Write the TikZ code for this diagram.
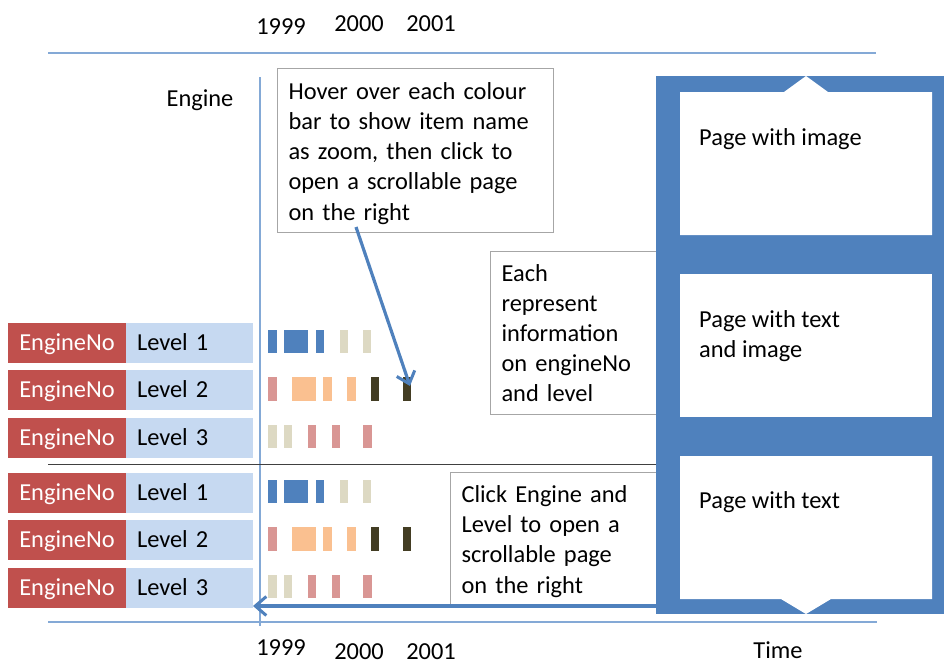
\documentclass[tikz,border=0pt]{standalone}
\usepackage{fontspec}
\setmainfont{Carlito}
\usetikzlibrary{arrows.meta}

\definecolor{engred}{HTML}{C0504D}
\definecolor{lvlblue}{HTML}{C6D9F1}
\definecolor{panelblue}{HTML}{4F81BD}
\definecolor{axisblue}{HTML}{84A9D6}
\definecolor{barblue}{HTML}{4F81BD}
\definecolor{barbeige}{HTML}{DDD9C3}
\definecolor{barpink}{HTML}{D99694}
\definecolor{barorange}{HTML}{FAC090}
\definecolor{bardark}{HTML}{433D23}
\definecolor{boxgray}{HTML}{A6A6A6}
\definecolor{sepline}{HTML}{404040}

\newcommand\barrow[2]{%
  \foreach \xa/\xb/\col in {#2}{
    \fill[\col] (\xa,#1-11.7) rectangle (\xb,#1+11.7);
  }}

\begin{document}
\begin{tikzpicture}[x=1pt,y=-1pt,
  font=\fontsize{24.4}{30.2}\selectfont,
  axisline/.style={draw=axisblue,line width=1.3pt},
  engbox/.style={fill=engred,text=white,minimum width=118pt,minimum height=40pt,
    inner sep=0pt,text height=18pt,text depth=3pt},
  lvlbox/.style={fill=lvlblue,text=black,minimum height=40pt,text width=105pt,
    inner xsep=11pt,inner ysep=0pt,align=left,text height=18pt,text depth=3pt},
  notebox/.style={draw=boxgray,line width=1.1pt,fill=white,align=left,
    inner xsep=11pt,anchor=north west},
  pagetext/.style={anchor=north west,inner sep=0pt,align=left},
  yearlabel/.style={anchor=base,inner sep=0pt},
  callout/.style={draw=panelblue,line width=3.2pt,
    -{Straight Barb[length=11pt,width=19pt,line width=3pt]}}
]
\useasboundingbox (0,0) rectangle (944,662);

% time axis lines and year labels
\coordinate (topL) at (48,53);
\coordinate (topR) at (876,53);
\coordinate (botL) at (48,622);
\coordinate (botR) at (877,622);
\coordinate (axT) at (260,77);
\coordinate (axB) at (260,626);
\draw[axisline] (topL) -- (topR);
\draw[axisline] (botL) -- (botR);
\draw[axisline] (axT) -- (axB);

\node[yearlabel] (y1t) at (281,34) {1999};
\node[yearlabel] (y2t) at (359,31) {2000};
\node[yearlabel] (y3t) at (431,31) {2001};
\node[yearlabel] (y1b) at (281,655) {1999};
\node[yearlabel] (y2b) at (359,659) {2000};
\node[yearlabel] (y3b) at (431,659) {2001};
\node[yearlabel] (time) at (778,658) {Time};
\node[yearlabel] (engine) at (200,106) {Engine};

% separator between the two groups of rows
\coordinate (sepL) at (48,464);
\coordinate (sepR) at (656,464);
\draw[sepline,line width=1pt] (sepL) -- (sepR);

% engine / level row headers
\foreach \yc/\lv [count=\i] in {342.5/1,390/2,437.5/3,492.5/1,540/2,587.5/3}{
  \node[engbox] (eng\i) at (67,\yc) {EngineNo};
  \node[lvlbox] (lvl\i) at (189.5,\yc) {Level \lv};
}

% colour bars
\foreach \yc in {341.5,491.5}{
  \barrow{\yc}{268/277/barblue,284/308/barblue,316/324/barblue,340/348/barbeige,363/371/barbeige}
}
\foreach \yc in {389,539}{
  \barrow{\yc}{268/277/barpink,292/316/barorange,323/332/barorange,347/356/barorange,371/379/bardark,403/411/bardark}
}
\foreach \yc in {436.5,586.5}{
  \barrow{\yc}{268/277/barbeige,284/292/barbeige,308/316/barpink,332/340/barpink,363/372/barpink}
}

% explanatory notes
\node[notebox,minimum width=276pt,minimum height=164pt,text width=254pt,
  inner ysep=0pt] (hover) at (277,68)
  {\rule{0pt}{22.5pt}Hover over each colour\\bar to show item name\\as zoom, then click to\\open a scrollable page\\on the right};
\node[notebox,minimum width=180pt,minimum height=163pt,text width=158pt] (each) at (490,251)
  {Each\\represent\\information\\on engineNo\\and level};
\node[notebox,minimum width=220pt,minimum height=133pt,text width=198pt,
  inner ysep=0pt] (click) at (450,472)
  {\rule{0pt}{21.5pt}Click Engine and\\Level to open a\\scrollable page\\on the right};

% scrollable page panel
\fill[panelblue] (656,76) rectangle (944,614);
\fill[white] (680,92) -- (784,92) -- (806,76) -- (828,92) -- (932,92)
  -- (932,235) -- (680,235) -- cycle;
\fill[white] (680,274) rectangle (932,417);
\fill[white] (680,456) -- (932,456) -- (932,599) -- (831,599) -- (806,614)
  -- (781,599) -- (680,599) -- cycle;
\node[pagetext] (p1) at (699,128) {Page with image};
\node[pagetext] (p2) at (699,310) {Page with text\\and image};
\node[pagetext] (p3) at (699,491) {Page with text};

% connectors
\coordinate (hoverfoot) at (356,227);
\coordinate (bartip) at (410,386);
\draw[callout] (hoverfoot) -- (bartip);
\coordinate (panelfoot) at (660,606);
\coordinate (rowend) at (253,606);
\draw[callout] (panelfoot) -- (rowend);
\end{tikzpicture}
\end{document}
